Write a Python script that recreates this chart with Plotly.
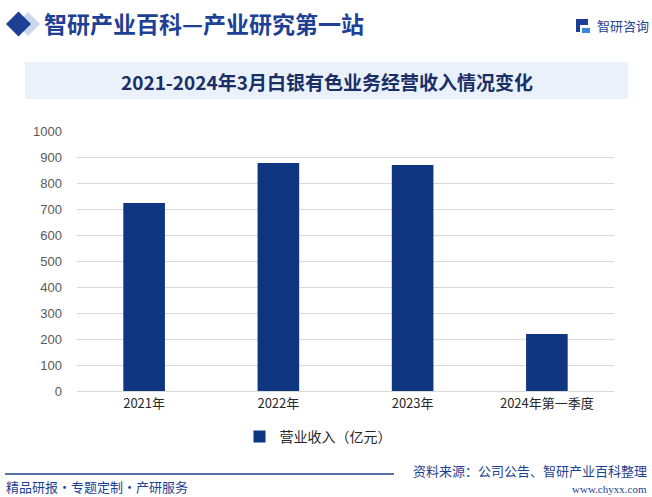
import plotly.graph_objects as go

W, H = 652, 497

categories = ["2021年", "2022年", "2023年", "2024年第一季度"]
revenue = [723, 877, 869, 219]
series_name = "营业收入（亿元）"
y_ticks = [0, 100, 200, 300, 400, 500, 600, 700, 800, 900, 1000]

NAVY = "#0e3681"
CJK = "Noto Sans CJK SC"


def px(x):
    return x / W


def py(y):
    return 1 - y / H


fig = go.Figure()
fig.add_trace(go.Bar(
    x=categories, y=revenue, name=series_name,
    marker=dict(color=NAVY, line=dict(width=0)),
    width=0.31, showlegend=True,
))

shapes = []
# title band
shapes.append(dict(type="rect", xref="paper", yref="paper",
                   x0=px(25), x1=px(628), y0=py(99), y1=py(62),
                   fillcolor="#eaf1fb", line=dict(width=0), layer="below"))
# header diamonds
shapes.append(dict(type="path", xref="paper", yref="paper",
                   path=f"M {px(28)},{py(12)} L {px(40)},{py(24)} L {px(28)},{py(36)} L {px(16)},{py(24)} Z",
                   fillcolor="#c9d6ee", line=dict(width=0)))
shapes.append(dict(type="path", xref="paper", yref="paper",
                   path=f"M {px(18.5)},{py(11.5)} L {px(31)},{py(24)} L {px(18.5)},{py(36.5)} L {px(6)},{py(24)} Z",
                   fillcolor="#1d3f94", line=dict(width=0)))
# logo glyph
shapes.append(dict(type="path", xref="paper", yref="paper",
                   path=f"M {px(576)},{py(19)} L {px(588)},{py(19)} L {px(588)},{py(25)} L {px(580)},{py(25)} "
                        f"L {px(580)},{py(32)} L {px(576)},{py(32)} Z",
                   fillcolor="#1d3f94", line=dict(width=0)))
shapes.append(dict(type="rect", xref="paper", yref="paper",
                   x0=px(582), x1=px(590), y0=py(33), y1=py(28),
                   fillcolor="#3a86d4", line=dict(width=0)))
# footer line
shapes.append(dict(type="line", xref="paper", yref="paper",
                   x0=px(5), x1=px(394), y0=py(474), y1=py(474),
                   line=dict(color="#1d3f94", width=1.5)))

annotations = [
    dict(text="<b>智研产业百科—产业研究第一站</b>", x=px(42), y=py(23), xanchor="left", yanchor="middle",
         font=dict(family=CJK, size=23, color="#1d3f94"), showarrow=False, xref="paper", yref="paper"),
    dict(text="智研咨询", x=px(595), y=py(25), xanchor="left", yanchor="middle",
         font=dict(family=CJK, size=13, color="#1d3f94"), showarrow=False, xref="paper", yref="paper"),
    dict(text="<b>2021-2024年3月白银有色业务经营收入情况变化</b>", x=px(327), y=py(81),
         xanchor="center", yanchor="middle",
         font=dict(family=CJK, size=19, color="#1a2f66"), showarrow=False, xref="paper", yref="paper"),
    dict(text="资料来源：公司公告、智研产业百科整理", x=px(649), y=py(470), xanchor="right", yanchor="middle",
         font=dict(family=CJK, size=13, color="#1d3f94"), showarrow=False, xref="paper", yref="paper"),
    dict(text="精品研报・专题定制・产研服务", x=px(4), y=py(486), xanchor="left", yanchor="middle",
         font=dict(family=CJK, size=13, color="#1d3f94"), showarrow=False, xref="paper", yref="paper"),
    dict(text="www.chyxx.com", x=px(649), y=py(489), xanchor="right", yanchor="middle",
         font=dict(family="Liberation Serif", size=11, color="#1d3f94"), showarrow=False, xref="paper", yref="paper"),
]

fig.update_layout(
    width=W, height=H,
    margin=dict(l=0, r=0, t=0, b=0),
    paper_bgcolor="white", plot_bgcolor="white",
    xaxis=dict(domain=[px(77), px(614)], showgrid=False, showline=True, automargin=False,
               linecolor="#d9d9d9", linewidth=1, ticks="",
               tickfont=dict(family=CJK, size=13, color="#262626")),
    yaxis=dict(domain=[py(391), py(131)], range=[0, 1000], tickvals=y_ticks, automargin=False,
               showgrid=True, gridcolor="#d9d9d9", gridwidth=1, zeroline=False,
               showline=False, ticks="", ticklabelstandoff=14,
               tickfont=dict(family="Liberation Sans", size=13, color="#595959")),
    legend=dict(orientation="h", x=px(318), xanchor="center", y=py(437), yanchor="middle",
                font=dict(family=CJK, size=14, color="#262626"),
                itemwidth=30, bgcolor="rgba(0,0,0,0)"),
    shapes=shapes,
    annotations=annotations,
)

page_fix = "document.body.style.margin='0';"
fig.write_html("out.html", config={"displayModeBar": False}, post_script=page_fix)
